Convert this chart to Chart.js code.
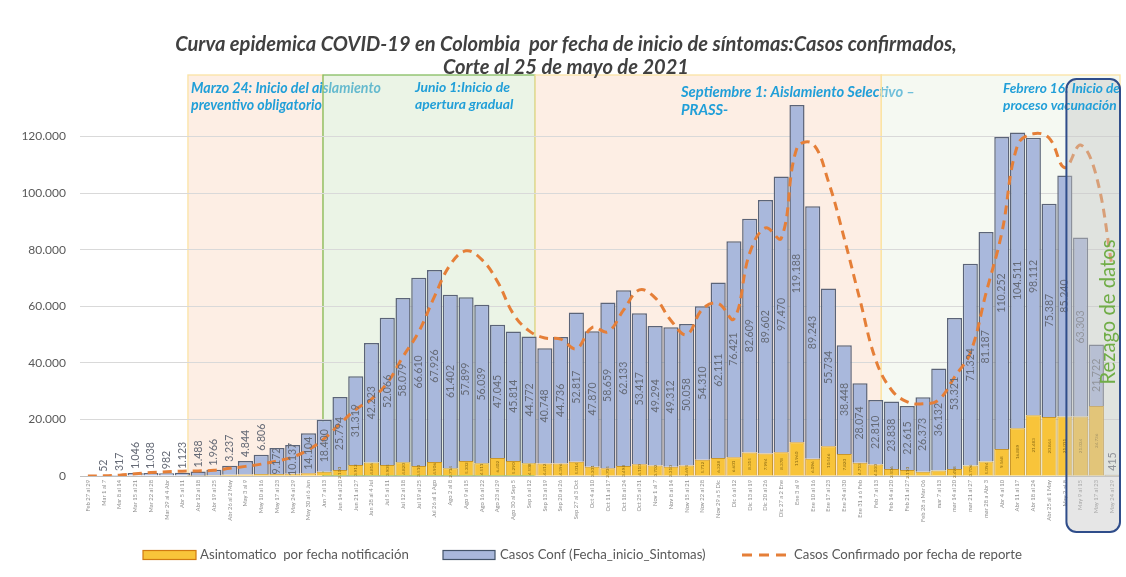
<!DOCTYPE html>
<html lang="es">
<head>
<meta charset="utf-8">
<title>Curva epidémica COVID-19 en Colombia</title>
<script src="https://cdn.jsdelivr.net/npm/chart.js@4.4.1/dist/chart.umd.min.js"></script>
<style>
  html, body { margin: 0; padding: 0; background: #ffffff; }
  canvas { display: block; }
</style>
</head>
<body>
<canvas id="curva" width="1126" height="577"></canvas>
<script>
// Semanas epidemiológicas (fecha de inicio de síntomas)
const semanas = [
  'Feb 27 al 29', 'Mar 1 al 7', 'Mar 8 al 14', 'Mar 15 al 21', 'Mar 22 al 28', 'Mar 29 al 4 Abr',
  'Abr 5 al 11', 'Abr 12 al 18', 'Abr 19 al 25', 'Abr 26 al 2 May', 'May 3 al 9', 'May 10 al 16',
  'May 17 al 23', 'May 24 al 29', 'May 30 al 6 Jun', 'Jun 7 al 13', 'Jun 14 al 20', 'Jun 21 al 27',
  'Jun 28 al 4 Jul', 'Jul 5 al 11', 'Jul 12 al 18', 'Jul 19 al 25', 'Jul 26 al 1 Ago', 'Ago 2 al 8',
  'Ago 9 al 15', 'Ago 16 al 22', 'Ago 23 al 29', 'Ago 30 al Sep 5', 'Sep 6 al 12', 'Sep 13 al 19',
  'Sep 20 al 26', 'Sep 27 al 3 Oct', 'Oct 4 al 10', 'Oct 11 al 17', 'Oct 18 al 24', 'Oct 25 al 31',
  'Nov 1 al 7', 'Nov 8 al 14', 'Nov 15 al 21', 'Nov 22 al 28', 'Nov 29 a 5 Dic', 'Dic 6 al 12',
  'Dic 13 al 19', 'Dic 20 al 26', 'Dic 27 a 2 Ene', 'Ene 3 al 9', 'Ene 10 al 16', 'Ene 17 al 23',
  'Ene 24 al 30', 'Ene 31 a 6 Feb', 'Feb 7 al 13', 'Feb 14 al 20', 'Feb 21 al 27', 'Feb 28 a Mar 06',
  'mar 7 al 13', 'mar 14 al 20', 'mar 21 al 27', 'mar 28 a Abr 3', 'Abr 4 al 10', 'Abr 11 al 17',
  'Abr 18 al 24', 'Abr 25 al 1 May', 'May 2 al 8', 'May 9 al 15', 'May 17 al 23', 'May 24 al 29'
];

// Casos confirmados por fecha de inicio de síntomas
const sintomas = [
  0, 52, 317, 1046, 1038, 982, 1123, 1488, 1966, 3237, 4844, 6806,
  9172, 10137, 14104, 18400, 25794, 31319, 42223, 52066, 58079, 66610, 67926, 61402,
  57899, 56039, 47045, 45814, 44772, 40748, 44736, 52817, 47870, 58659, 62133, 53417,
  49294, 49312, 50058, 54310, 62111, 76421, 82609, 89602, 97470, 119188, 89243, 55734,
  38448, 28074, 22810, 23838, 22615, 26373, 36132, 53321, 71324, 81187, 110252, 104511,
  98112, 75387, 85240, 63303, 21722, 415
];

// Asintomáticos por fecha de notificación
const asintomaticos = [
  0, 0, 0, 0, 0, 0, 0, 100, 200, 400, 500, 700,
  700, 800, 1000, 1500, 2100, 3912, 4816, 3905, 4820, 3510, 4906, 2714,
  5302, 4511, 6402, 5290, 4508, 4412, 4396, 5014, 3301, 2705, 3498, 4110,
  3702, 3310, 3695, 5712, 6328, 6601, 8315, 7994, 8378, 11960, 6096, 10546,
  7820, 4713, 4030, 2506, 2110, 1512, 1903, 2498, 3706, 5094, 9568, 16889,
  21483, 20844, 21011, 21034, 24736, 0
];

// Casos confirmados por fecha de reporte
const reporte = [
  0, 50, 300, 800, 1200, 1500, 1700, 1800, 2000, 2700, 3400, 4200,
  5300, 6700, 9300, 13200, 18500, 23500, 27200, 32900, 42200, 51000, 63500, 74700,
  79600, 76500, 68700, 57300, 51300, 48800, 48400, 45000, 52500, 51000, 58700, 65800,
  63000, 55000, 50000, 59000, 61000, 55500, 78800, 87700, 84000, 116000, 117500, 104000,
  84000, 62200, 41000, 30400, 26200, 25500, 26900, 35000, 43500, 64700, 86000, 117000,
  121000, 119500, 109000, 117000, 106000, 74000
];

// Marcas del eje vertical
const ticksY = [0, 20000, 40000, 60000, 80000, 100000, 120000];

// Etapas de la respuesta (en posiciones de semana sobre el eje x)
const etapas = [
  { desde: 6.35,  hasta: 14.92, relleno: 'rgba(250,212,187,0.40)', borde: '#fbe3a4' },
  { desde: 14.92, hasta: 28.38, relleno: 'rgba(206,228,192,0.40)', borde: '#86bd62' },
  { desde: 28.38, hasta: 50.35, relleno: 'rgba(250,212,187,0.40)', borde: '#fbe3a4' },
  { desde: 50.35, hasta: 65.5,  relleno: 'rgba(230,240,222,0.40)', borde: '#fbe3a4' }
];

const notas = [
  { x: 191,  y: [88, 105],  ancho: 190, lineas: ['Marzo 24: Inicio del aislamiento', 'preventivo obligatorio'] },
  { x: 415,  y: [88, 105],  ancho: 95,  lineas: ['Junio 1:Inicio de', 'apertura gradual'] },
  { x: 681,  y: [92, 110],  ancho: 234, lineas: ['Septiembre 1: Aislamiento Selectivo \u2013', 'PRASS-'] },
  { x: 1003, y: [89, 106],  ancho: 117, lineas: ['Febrero 16: Inicio de', 'proceso vacunación'] }
];

const titulo = ['Curva epidemica COVID-19 en Colombia  por fecha de inicio de síntomas:Casos confirmados,',
                'Corte al 25 de mayo de 2021'];

const FAM = 'Lato, "Liberation Sans", "DejaVu Sans", sans-serif';
const COLOR_NOTA = '#219fd8';
const AMARILLO = '#f8c43a', AMARILLO_BORDE = '#c9962a';
const AZUL = '#a9b8dc', AZUL_BORDE = '#5b6478';
const NARANJA = '#e57f38';

const fmt = v => String(Math.round(v)).replace(/\B(?=(\d{3})+(?!\d))/g, '.');

function ajustar(ctx, texto, ancho, estilo) {
  ctx.font = `${estilo} 20px ${FAM}`;
  return 20 * ancho / ctx.measureText(texto).width;
}
function fuente(ctx, estilo, tam) {
  ctx.font = `${estilo} ${tam.toFixed(2)}px ${FAM}`;
}
function textoVertical(ctx, texto, x, y, align) {
  ctx.save();
  ctx.translate(x, y);
  ctx.rotate(-Math.PI / 2);
  ctx.textAlign = align;
  ctx.textBaseline = 'middle';
  ctx.fillText(texto, 0, 0);
  ctx.restore();
}
function dibujarNota(ctx, n) {
  const tam = ajustar(ctx, n.lineas[0], n.ancho, 'italic bold');
  fuente(ctx, 'italic bold', tam);
  ctx.fillStyle = COLOR_NOTA;
  ctx.textAlign = 'left';
  ctx.textBaseline = 'middle';
  n.lineas.forEach((l, k) => ctx.fillText(l, n.x, n.y[k]));
}

const TOPE_ETAPAS = 75;
const cajaRezago = { desde: 62.1, arriba: 79, abajo: 532, radio: 10 };

const fondo = {
  id: 'fondo',
  beforeDraw(chart) {
    const { ctx, chartArea, scales } = chart;
    ctx.save();
    ctx.fillStyle = '#ffffff';
    ctx.fillRect(0, 0, chart.width, chart.height);
    etapas.forEach((e, k) => {
      const x0 = scales.x.getPixelForValue(e.desde);
      const x1 = scales.x.getPixelForValue(e.hasta);
      ctx.fillStyle = e.relleno;
      ctx.fillRect(x0, TOPE_ETAPAS, x1 - x0, chartArea.bottom - TOPE_ETAPAS);
      ctx.strokeStyle = e.borde;
      ctx.lineWidth = 1.3;
      ctx.strokeRect(x0, TOPE_ETAPAS, x1 - x0, chartArea.bottom - TOPE_ETAPAS);
      if (k < 3) dibujarNota(ctx, notas[k]);
    });
    ctx.restore();
  }
};

const etiquetas = {
  id: 'etiquetas',
  afterDatasetsDraw(chart) {
    const { ctx } = chart;
    ctx.save();
    // valores de casos con síntomas
    const mAzul = chart.getDatasetMeta(2);
    fuente(ctx, '', 10.6);
    ctx.fillStyle = '#656a76';
    mAzul.data.forEach((el, i) => {
      const v = sintomas[i];
      if (!v) return;
      const alto = el.base - el.y;
      if (alto >= 24) textoVertical(ctx, fmt(v), el.x, (el.y + el.base) / 2, 'center');
      else textoVertical(ctx, fmt(v), el.x, el.y - 4, 'left');
    });
    // valores de asintomáticos
    const mAmar = chart.getDatasetMeta(1);
    fuente(ctx, '', 4.6);
    ctx.fillStyle = '#8a6a14';
    mAmar.data.forEach((el, i) => {
      const v = asintomaticos[i];
      if (!v || el.base - el.y < 5) return;
      textoVertical(ctx, fmt(v), el.x, (el.y + el.base) / 2, 'center');
    });
    ctx.restore();
  }
};

const rotulos = {
  id: 'rotulos',
  afterDraw(chart) {
    const { ctx, chartArea, scales } = chart;
    ctx.save();

    // recuadro de rezago de datos
    const bx = scales.x.getPixelForValue(cajaRezago.desde);
    const bw = chartArea.right - bx;
    const bh = cajaRezago.abajo - cajaRezago.arriba;
    ctx.beginPath();
    ctx.roundRect(bx, cajaRezago.arriba, bw, bh, cajaRezago.radio);
    ctx.fillStyle = 'rgba(200,200,200,0.45)';
    ctx.fill();
    dibujarNota(ctx, notas[3]);
    ctx.beginPath();
    ctx.roundRect(bx, cajaRezago.arriba, bw, bh, cajaRezago.radio);
    ctx.strokeStyle = '#2f4d8a';
    ctx.lineWidth = 2;
    ctx.stroke();

    // texto vertical del rezago
    const tr = ajustar(ctx, 'Rezago de datos', 145, '');
    fuente(ctx, '', tr);
    ctx.fillStyle = '#70ad47';
    textoVertical(ctx, 'Rezago de datos', 1108, 312, 'center');

    // título
    const tt = ajustar(ctx, titulo[0], 782, 'italic bold');
    fuente(ctx, 'italic bold', tt);
    ctx.fillStyle = '#404040';
    ctx.textAlign = 'center';
    ctx.textBaseline = 'middle';
    ctx.fillText(titulo[0], 566, 45);
    ctx.fillText(titulo[1], 566, 68);

    // leyenda
    const yL = 555;
    const tl = ajustar(ctx, 'Casos Confirmado por fecha de reporte', 228, '');
    fuente(ctx, '', tl);
    ctx.textAlign = 'left';
    ctx.fillStyle = AMARILLO;
    ctx.fillRect(143, yL - 4.5, 53, 9);
    ctx.strokeStyle = '#d07a12';
    ctx.lineWidth = 1.2;
    ctx.strokeRect(143, yL - 4.5, 53, 9);
    ctx.fillStyle = AZUL;
    ctx.fillRect(443, yL - 4.5, 52, 9);
    ctx.strokeStyle = '#44546a';
    ctx.strokeRect(443, yL - 4.5, 52, 9);
    ctx.strokeStyle = NARANJA;
    ctx.lineWidth = 3;
    ctx.setLineDash([10, 7]);
    ctx.beginPath();
    ctx.moveTo(742, yL);
    ctx.lineTo(788, yL);
    ctx.stroke();
    ctx.setLineDash([]);
    ctx.fillStyle = '#595959';
    ctx.fillText('Asintomatico  por fecha notificación', 200, yL);
    ctx.fillText('Casos Conf (Fecha_inicio_Sintomas)', 500, yL);
    ctx.fillText('Casos Confirmado por fecha de reporte', 794, yL);

    ctx.restore();
  }
};

Chart.defaults.font.family = FAM;

new Chart(document.getElementById('curva'), {
  type: 'bar',
  data: {
    labels: semanas,
    datasets: [
      {
        type: 'line',
        label: 'Casos Confirmado por fecha de reporte',
        data: reporte,
        borderColor: NARANJA,
        borderWidth: 3,
        borderDash: [9, 6],
        pointRadius: 0,
        tension: 0.4,
        fill: false,
        stack: 'reporte',
        order: 0
      },
      {
        label: 'Asintomatico  por fecha notificación',
        data: asintomaticos,
        backgroundColor: AMARILLO,
        borderColor: AMARILLO_BORDE,
        borderWidth: 1,
        stack: 'casos',
        order: 1,
        barPercentage: 0.96,
        categoryPercentage: 1
      },
      {
        label: 'Casos Conf (Fecha_inicio_Sintomas)',
        data: sintomas,
        backgroundColor: AZUL,
        borderColor: AZUL_BORDE,
        borderWidth: 1.5,
        stack: 'casos',
        order: 1,
        barPercentage: 0.96,
        categoryPercentage: 1
      }
    ]
  },
  options: {
    responsive: false,
    animation: false,
    layout: { padding: { top: 80, right: 6, bottom: 49, left: 0 } },
    plugins: {
      legend: { display: false },
      title: { display: false },
      tooltip: { enabled: false }
    },
    scales: {
      x: {
        stacked: true,
        grid: { display: false, drawTicks: false },
        border: { color: '#bfbfbf', width: 1 },
        ticks: {
          autoSkip: false, maxRotation: 90, minRotation: 90,
          font: { size: 5.8 }, color: '#8f8f8f', padding: 4
        },
        afterFit(s) { s.height = 52; }
      },
      y: {
        stacked: true,
        min: 0,
        max: 140000,
        afterBuildTicks(s) { s.ticks = ticksY.map(v => ({ value: v })); },
        ticks: {
          callback: v => fmt(v),
          font: { size: 12 }, color: '#595959', padding: 14
        },
        grid: { color: '#d9d9d9', drawTicks: false },
        border: { display: false },
        afterFit(s) { s.width = 80; }
      }
    }
  },
  plugins: [fondo, etiquetas, rotulos]
});
</script>
</body>
</html>
